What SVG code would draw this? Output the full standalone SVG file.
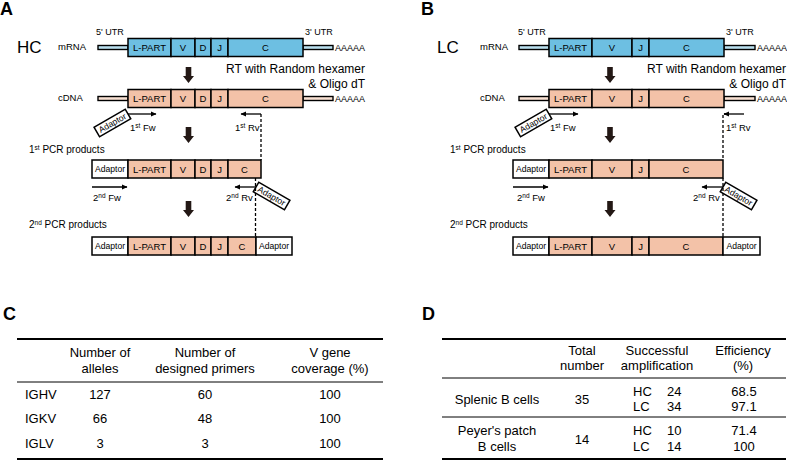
<svg xmlns="http://www.w3.org/2000/svg" width="787" height="460" viewBox="0 0 787 460">
<defs>
<style>
text{font-family:"Liberation Sans",Arial,sans-serif;fill:#000}
.lbl{font-size:18px;font-weight:bold}
.big{font-size:17px}
.sm{font-size:9.5px}
.utr{font-size:9px}
.seg{font-size:9.5px;text-anchor:middle}
.ad{font-size:8.6px;text-anchor:middle}
.rt{font-size:12px;text-anchor:end}
.pcr{font-size:10px}
.pr{font-size:9.5px}
.blue{fill:#6dbfe2;stroke:#000;stroke-width:1.5}
.sal{fill:#f3c2a8;stroke:#000;stroke-width:1.5}
.ubl{fill:#b9dfee;stroke:#000;stroke-width:1.4}
.usa{fill:#f8e0d2;stroke:#000;stroke-width:1.4}
.wht{fill:#fff;stroke:#000;stroke-width:1.5}
.ln{stroke:#000;stroke-width:1.5;fill:none}
.pl{stroke:#000;stroke-width:1.3;fill:none;marker-end:url(#ah)}
.dash{stroke:#000;stroke-width:1.3;stroke-dasharray:3,2;fill:none}
.tb{font-size:13px}
.c{text-anchor:middle}
.thick{stroke:#000;stroke-width:1.8}
.thin{stroke:#000;stroke-width:1}
</style>
<marker id="ah" markerWidth="6" markerHeight="6" refX="5" refY="3" orient="auto" markerUnits="userSpaceOnUse">
<path d="M0,0.5 L5.5,3 L0,5.5 Z" fill="#000"/>
</marker>
<polygon id="down" points="-2.8,0 2.8,0 2.8,9 5.5,9 0,16 -5.5,9 -2.8,9" fill="#231815"/>
</defs>

<!-- Panel A -->
<g id="panelA">
<text class="lbl" x="0" y="15">A</text>
<text class="big" x="17" y="53">HC</text>
<g id="A-mRNA">
<text class="sm" x="58" y="50">mRNA</text>
<text class="utr" x="96" y="35">5' UTR</text>
<text class="utr" x="305" y="35">3' UTR</text>
<rect class="ubl" x="98" y="45.5" width="30" height="4"/>
<rect class="ubl" x="303" y="45.5" width="30" height="4"/>
<text class="utr" x="335" y="50.5">AAAAA</text>
<rect class="blue" x="128" y="38.5" width="43" height="18"/>
<rect class="blue" x="171" y="38.5" width="24" height="18"/>
<rect class="blue" x="195" y="38.5" width="16" height="18"/>
<rect class="blue" x="211" y="38.5" width="17" height="18"/>
<rect class="blue" x="228" y="38.5" width="75" height="18"/>
<text class="seg" x="149.5" y="51">L-PART</text>
<text class="seg" x="183" y="51">V</text>
<text class="seg" x="203" y="51">D</text>
<text class="seg" x="219.5" y="51">J</text>
<text class="seg" x="265.5" y="51">C</text>
</g>
<use href="#down" x="188.5" y="67"/>
<text class="rt" x="365" y="73">RT with Random hexamer</text>
<text class="rt" x="365" y="88">&amp; Oligo dT</text>
<g id="A-cDNA">
<text class="sm" x="58" y="101">cDNA</text>
<rect class="usa" x="98" y="96.5" width="30" height="4"/>
<rect class="usa" x="303" y="96.5" width="30" height="4"/>
<text class="utr" x="335" y="101.5">AAAAA</text>
<rect class="sal" x="128" y="89.5" width="43" height="18"/>
<rect class="sal" x="171" y="89.5" width="24" height="18"/>
<rect class="sal" x="195" y="89.5" width="16" height="18"/>
<rect class="sal" x="211" y="89.5" width="17" height="18"/>
<rect class="sal" x="228" y="89.5" width="75" height="18"/>
<text class="seg" x="149.5" y="102">L-PART</text>
<text class="seg" x="183" y="102">V</text>
<text class="seg" x="203" y="102">D</text>
<text class="seg" x="219.5" y="102">J</text>
<text class="seg" x="265.5" y="102">C</text>
</g>
<g id="A-1stFw">
<g transform="translate(112.4,123) rotate(-30)">
<rect class="wht" x="-18" y="-5.5" width="36" height="11"/>
<text class="ad" x="0" y="3">Adaptor</text>
</g>
<path class="pl" d="M128,114 H156"/>
<text class="pr" x="130" y="131">1<tspan font-size="6.5" dy="-3.5">st</tspan><tspan dy="3.5"> Fw</tspan></text>
</g>
<g id="A-1stRv">
<path class="pl" d="M261,114 H241"/>
<text class="pr" x="235" y="131">1<tspan font-size="6.5" dy="-3.5">st</tspan><tspan dy="3.5"> Rv</tspan></text>
</g>
<use href="#down" x="188.5" y="127"/>
<text class="pcr" x="29" y="153">1<tspan font-size="6.5" dy="-3.5">st</tspan><tspan dy="3.5"> PCR products</tspan></text>
<g id="A-PCR1">
<rect class="wht" x="92" y="160" width="36" height="18"/>
<text class="ad" x="110" y="172">Adaptor</text>
<rect class="sal" x="128" y="160" width="43" height="18"/>
<rect class="sal" x="171" y="160" width="24" height="18"/>
<rect class="sal" x="195" y="160" width="16" height="18"/>
<rect class="sal" x="211" y="160" width="17" height="18"/>
<rect class="sal" x="228" y="160" width="33" height="18"/>
<text class="seg" x="149.5" y="172.5">L-PART</text>
<text class="seg" x="183" y="172.5">V</text>
<text class="seg" x="203" y="172.5">D</text>
<text class="seg" x="219.5" y="172.5">J</text>
<text class="seg" x="244.5" y="172.5">C</text>
</g>
<g id="A-2ndFw">
<path class="pl" d="M92,187 H127"/>
<text class="pr" x="93" y="201">2<tspan font-size="6.5" dy="-3.5">nd</tspan><tspan dy="3.5"> Fw</tspan></text>
</g>
<g id="A-2ndRv">
<path class="pl" d="M256,187 H235"/>
<text class="pr" x="226" y="201">2<tspan font-size="6.5" dy="-3.5">nd</tspan><tspan dy="3.5"> Rv</tspan></text>
<g transform="translate(271.6,196) rotate(30)">
<rect class="wht" x="-18" y="-5.5" width="36" height="11"/>
<text class="ad" x="0" y="3">Adaptor</text>
</g>
</g>
<use href="#down" x="188.5" y="201"/>
<text class="pcr" x="29" y="228">2<tspan font-size="6.5" dy="-3.5">nd</tspan><tspan dy="3.5"> PCR products</tspan></text>
<g id="A-PCR2">
<rect class="wht" x="92" y="237" width="36" height="18"/>
<text class="ad" x="110" y="249">Adaptor</text>
<rect class="sal" x="128" y="237" width="43" height="18"/>
<rect class="sal" x="171" y="237" width="24" height="18"/>
<rect class="sal" x="195" y="237" width="16" height="18"/>
<rect class="sal" x="211" y="237" width="17" height="18"/>
<rect class="sal" x="228" y="237" width="28" height="18"/>
<rect class="wht" x="256" y="237" width="36" height="18"/>
<text class="seg" x="149.5" y="249.5">L-PART</text>
<text class="seg" x="183" y="249.5">V</text>
<text class="seg" x="203" y="249.5">D</text>
<text class="seg" x="219.5" y="249.5">J</text>
<text class="seg" x="242" y="249.5">C</text>
<text class="ad" x="274" y="249">Adaptor</text>
</g>
</g>

<!-- Panel B -->
<g id="panelB">
<text class="lbl" x="421" y="15">B</text>
<text class="big" x="437" y="53">LC</text>
<g id="B-mRNA">
<text class="sm" x="480" y="50">mRNA</text>
<text class="utr" x="518" y="35">5' UTR</text>
<text class="utr" x="726" y="35">3' UTR</text>
<rect class="ubl" x="519" y="45.5" width="30" height="4"/>
<rect class="ubl" x="724" y="45.5" width="31" height="4"/>
<text class="utr" x="757" y="50.5">AAAAA</text>
<rect class="blue" x="549" y="38.5" width="43" height="18"/>
<rect class="blue" x="592" y="38.5" width="40" height="18"/>
<rect class="blue" x="632" y="38.5" width="17" height="18"/>
<rect class="blue" x="649" y="38.5" width="75" height="18"/>
<text class="seg" x="570.5" y="51">L-PART</text>
<text class="seg" x="612" y="51">V</text>
<text class="seg" x="640.5" y="51">J</text>
<text class="seg" x="686.5" y="51">C</text>
</g>
<use href="#down" x="610" y="67"/>
<text class="rt" x="786" y="73">RT with Random hexamer</text>
<text class="rt" x="786" y="88">&amp; Oligo dT</text>
<g id="B-cDNA">
<text class="sm" x="480" y="101">cDNA</text>
<rect class="usa" x="519" y="96.5" width="30" height="4"/>
<rect class="usa" x="724" y="96.5" width="31" height="4"/>
<text class="utr" x="757" y="101.5">AAAAA</text>
<rect class="sal" x="549" y="89.5" width="43" height="18"/>
<rect class="sal" x="592" y="89.5" width="40" height="18"/>
<rect class="sal" x="632" y="89.5" width="17" height="18"/>
<rect class="sal" x="649" y="89.5" width="75" height="18"/>
<text class="seg" x="570.5" y="102">L-PART</text>
<text class="seg" x="612" y="102">V</text>
<text class="seg" x="640.5" y="102">J</text>
<text class="seg" x="686.5" y="102">C</text>
</g>
<g id="B-1stFw">
<g transform="translate(533.4,123) rotate(-30)">
<rect class="wht" x="-18" y="-5.5" width="36" height="11"/>
<text class="ad" x="0" y="3">Adaptor</text>
</g>
<path class="pl" d="M549,114 H578"/>
<text class="pr" x="550" y="131">1<tspan font-size="6.5" dy="-3.5">st</tspan><tspan dy="3.5"> Fw</tspan></text>
</g>
<g id="B-1stRv">
<path class="pl" d="M744,114 H724"/>
<text class="pr" x="726" y="131">1<tspan font-size="6.5" dy="-3.5">st</tspan><tspan dy="3.5"> Rv</tspan></text>
</g>
<use href="#down" x="610" y="127"/>
<text class="pcr" x="450" y="153">1<tspan font-size="6.5" dy="-3.5">st</tspan><tspan dy="3.5"> PCR products</tspan></text>
<g id="B-PCR1">
<rect class="wht" x="513" y="160" width="36" height="18"/>
<text class="ad" x="531" y="172">Adaptor</text>
<rect class="sal" x="549" y="160" width="43" height="18"/>
<rect class="sal" x="592" y="160" width="40" height="18"/>
<rect class="sal" x="632" y="160" width="17" height="18"/>
<rect class="sal" x="649" y="160" width="74" height="18"/>
<text class="seg" x="570.5" y="172.5">L-PART</text>
<text class="seg" x="612" y="172.5">V</text>
<text class="seg" x="640.5" y="172.5">J</text>
<text class="seg" x="686" y="172.5">C</text>
</g>
<g id="B-2ndFw">
<path class="pl" d="M513,187 H548"/>
<text class="pr" x="517" y="201">2<tspan font-size="6.5" dy="-3.5">nd</tspan><tspan dy="3.5"> Fw</tspan></text>
</g>
<g id="B-2ndRv">
<path class="pl" d="M723,187 H702"/>
<text class="pr" x="693" y="201">2<tspan font-size="6.5" dy="-3.5">nd</tspan><tspan dy="3.5"> Rv</tspan></text>
<g transform="translate(738.6,196) rotate(30)">
<rect class="wht" x="-18" y="-5.5" width="36" height="11"/>
<text class="ad" x="0" y="3">Adaptor</text>
</g>
</g>
<use href="#down" x="610" y="201"/>
<text class="pcr" x="450" y="228">2<tspan font-size="6.5" dy="-3.5">nd</tspan><tspan dy="3.5"> PCR products</tspan></text>
<g id="B-PCR2">
<rect class="wht" x="513" y="237" width="36" height="18"/>
<text class="ad" x="531" y="249">Adaptor</text>
<rect class="sal" x="549" y="237" width="43" height="18"/>
<rect class="sal" x="592" y="237" width="40" height="18"/>
<rect class="sal" x="632" y="237" width="17" height="18"/>
<rect class="sal" x="649" y="237" width="74" height="18"/>
<rect class="wht" x="723" y="237" width="37" height="18"/>
<text class="seg" x="570.5" y="249.5">L-PART</text>
<text class="seg" x="612" y="249.5">V</text>
<text class="seg" x="640.5" y="249.5">J</text>
<text class="seg" x="686" y="249.5">C</text>
<text class="ad" x="741.5" y="249">Adaptor</text>
</g>
</g>

<!-- dashed connectors -->
<g id="connectors">
<path class="dash" d="M261,114 V160"/>
<path class="dash" d="M255.5,178 V237"/>
<path class="dash" d="M727,114 H723 V160"/>
<path class="dash" d="M723,178 V237"/>
</g>

<!-- Panel C -->
<g id="panelC">
<text class="lbl" x="3" y="320">C</text>
<line class="thick" x1="17" y1="339" x2="383" y2="339"/>
<line class="thin" x1="17" y1="382" x2="383" y2="382"/>
<line class="thick" x1="17" y1="459" x2="383" y2="459"/>
<g class="tb">
<text class="c" x="100" y="357">Number of</text>
<text class="c" x="100" y="373">alleles</text>
<text class="c" x="205" y="357">Number of</text>
<text class="c" x="205" y="373">designed primers</text>
<text class="c" x="330" y="357">V gene</text>
<text class="c" x="330" y="373">coverage (%)</text>
<text x="25" y="399">IGHV</text>
<text class="c" x="100" y="399">127</text>
<text class="c" x="205" y="399">60</text>
<text class="c" x="330" y="399">100</text>
<text x="25" y="423">IGKV</text>
<text class="c" x="100" y="423">66</text>
<text class="c" x="205" y="423">48</text>
<text class="c" x="330" y="423">100</text>
<text x="25" y="448">IGLV</text>
<text class="c" x="100" y="448">3</text>
<text class="c" x="205" y="448">3</text>
<text class="c" x="330" y="448">100</text>
</g>
</g>

<!-- Panel D -->
<g id="panelD">
<text class="lbl" x="422" y="320">D</text>
<line class="thick" x1="442" y1="339" x2="786" y2="339"/>
<line class="thin" x1="442" y1="378" x2="786" y2="378"/>
<line class="thin" x1="442" y1="417" x2="786" y2="417"/>
<line class="thick" x1="442" y1="459" x2="786" y2="459"/>
<g class="tb">
<text class="c" x="582" y="355">Total</text>
<text class="c" x="582" y="370">number</text>
<text class="c" x="657" y="355">Successful</text>
<text class="c" x="657" y="370">amplification</text>
<text class="c" x="743" y="355">Efficiency</text>
<text class="c" x="743" y="370">(%)</text>
<text class="c" x="497" y="404">Splenic B cells</text>
<text class="c" x="582" y="404">35</text>
<text x="633" y="396">HC</text>
<text x="667" y="396">24</text>
<text x="633" y="411">LC</text>
<text x="667" y="411">34</text>
<text class="c" x="744" y="396">68.5</text>
<text class="c" x="744" y="411">97.1</text>
<text class="c" x="497" y="435">Peyer's patch</text>
<text class="c" x="497" y="451">B cells</text>
<text class="c" x="582" y="444">14</text>
<text x="633" y="435">HC</text>
<text x="667" y="435">10</text>
<text x="633" y="451">LC</text>
<text x="667" y="451">14</text>
<text class="c" x="744" y="435">71.4</text>
<text class="c" x="744" y="451">100</text>
</g>
</g>
</svg>
